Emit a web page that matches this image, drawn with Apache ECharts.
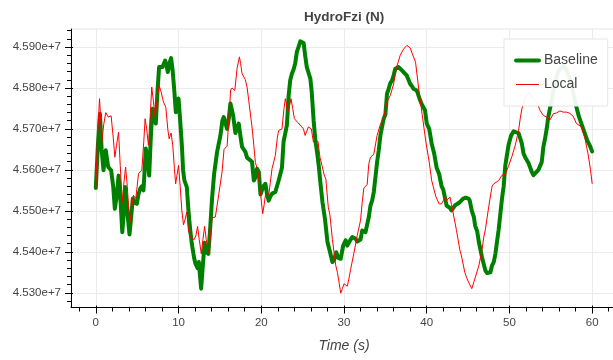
<!DOCTYPE html>
<html>
<head>
<meta charset="utf-8">
<script src="https://cdn.jsdelivr.net/npm/echarts@6/dist/echarts.min.js"></script>
<style>
  html, body { margin: 0; padding: 0; background: #ffffff; }
  #chart { width: 613px; height: 360px; }
</style>
</head>
<body>
<div id="chart"></div>
<script>
// ---- text ----
const TITLE = 'HydroFzi (N)';
const X_NAME = 'Time (s)';
const SERIES_NAMES = ['Baseline', 'Local'];

// ---- axes ----
const X_RANGE = [-3, 63];
const Y_RANGE = [45264e3, 45944e3];
const X_TICKS = [0, 10, 20, 30, 40, 50, 60];
const Y_TICKS = [45300e3, 45400e3, 45500e3, 45600e3, 45700e3, 45800e3, 45900e3];
const X_MINOR_STEP = 2;
const Y_MINOR_STEP = 20e3;

// ---- Baseline: time (s) and force (N) ----
const BASELINE_TIME = [
  0.00, 0.25, 0.50, 0.70, 0.93, 1.20, 1.50, 1.85, 2.10, 2.30, 2.55, 2.75, 3.00, 3.20, 3.40, 3.55,
  3.80, 4.07, 4.25, 4.47, 4.70, 4.96, 5.15, 5.36, 5.56, 5.76, 5.90, 6.04, 6.25, 6.45, 6.65, 6.85,
  7.05, 7.25, 7.45, 7.65, 7.85, 8.06, 8.25, 8.38, 8.55, 8.70, 8.90, 9.10, 9.30, 9.50, 9.67, 9.85,
  10.00, 10.20, 10.40, 10.55, 10.70, 11.00, 11.20, 11.40, 11.60, 11.90, 12.05, 12.30, 12.45, 12.60,
  12.73, 12.95, 13.15, 13.35, 13.60, 13.80, 14.05, 14.30, 14.66, 15.06, 15.30, 15.46, 15.66, 15.87,
  16.07, 16.27, 16.45, 16.60, 16.87, 17.05, 17.27, 17.50, 17.68, 18.08, 18.28, 18.48, 18.88, 19.10,
  19.25, 19.49, 19.70, 19.90, 20.05, 20.25, 20.50, 20.70, 20.90, 21.10, 21.30, 21.50, 21.70, 22.10,
  22.50, 22.70, 22.91, 23.10, 23.31, 23.50, 23.70, 23.90, 24.10, 24.30, 24.50, 24.72, 24.90, 25.12,
  25.30, 25.50, 25.70, 25.93, 26.10, 26.33, 26.55, 26.74, 26.95, 27.14, 27.40, 27.70, 28.00, 28.30,
  28.60, 28.80, 29.06, 29.30, 29.60, 29.90, 30.20, 30.40, 30.60, 30.80, 31.00, 31.20, 31.40, 31.60,
  31.80, 32.00, 32.20, 32.40, 32.60, 32.80, 33.00, 33.20, 33.40, 33.60, 33.80, 34.00, 34.20, 34.40,
  34.60, 34.80, 35.00, 35.20, 35.40, 35.60, 35.80, 36.00, 36.20, 36.40, 36.60, 36.80, 37.00, 37.20,
  37.60, 38.00, 38.20, 38.40, 38.60, 38.80, 39.20, 39.40, 39.60, 39.80, 40.00, 40.30, 40.60, 40.90,
  41.20, 41.50, 41.80, 42.00, 42.40, 42.80, 43.00, 43.20, 43.40, 43.60, 44.00, 44.40, 44.70, 45.05,
  45.20, 45.45, 45.70, 45.85, 46.10, 46.30, 46.70, 47.10, 47.30, 47.50, 47.70, 47.90, 48.10, 48.30,
  48.70, 49.10, 49.30, 49.50, 49.90, 50.20, 50.50, 50.70, 51.10, 51.50, 51.70, 51.90, 52.30, 52.70,
  52.90, 53.10, 53.50, 53.90, 54.10, 54.30, 54.50, 54.70, 55.10, 55.50, 55.90, 56.50, 57.00, 57.50,
  57.80, 58.10, 58.40, 58.70, 59.00, 59.40, 59.70, 60.00
];
const BASELINE_FORCE = [
  45556e3, 45660e3, 45737e3, 45650e3, 45599e3, 45648e3, 45607e3, 45599e3, 45560e3, 45505e3, 45540e3, 45586e3, 45520e3, 45448e3, 45500e3, 45558e3,
  45500e3, 45442e3, 45480e3, 45530e3, 45520e3, 45517e3, 45540e3, 45554e3, 45560e3, 45550e3, 45600e3, 45652e3, 45630e3, 45586e3, 45680e3, 45749e3,
  45740e3, 45713e3, 45790e3, 45851e3, 45855e3, 45851e3, 45860e3, 45867e3, 45855e3, 45839e3, 45860e3, 45873e3, 45840e3, 45790e3, 45741e3, 45765e3,
  45774e3, 45720e3, 45660e3, 45600e3, 45575e3, 45558e3, 45500e3, 45456e3, 45420e3, 45383e3, 45371e3, 45360e3, 45375e3, 45340e3,
  45310e3, 45370e3, 45422e3, 45400e3, 45395e3, 45450e3, 45530e3, 45590e3, 45644e3, 45684e3, 45720e3, 45729e3, 45725e3, 45700e3,
  45725e3, 45762e3, 45766e3, 45733e3, 45690e3, 45690e3, 45713e3, 45680e3, 45656e3, 45644e3, 45630e3, 45627e3, 45620e3, 45574e3,
  45580e3, 45603e3, 45595e3, 45540e3, 45536e3, 45560e3, 45566e3, 45540e3, 45525e3, 45535e3, 45542e3, 45542e3, 45546e3, 45574e3,
  45605e3, 45670e3, 45690e3, 45710e3, 45782e3, 45819e3, 45835e3, 45845e3, 45860e3, 45888e3, 45900e3, 45914e3, 45915e3, 45910e3,
  45880e3, 45851e3, 45838e3, 45823e3, 45790e3, 45720e3, 45670e3, 45644e3, 45610e3, 45570e3, 45521e3, 45480e3, 45424e3, 45400e3,
  45375e3, 45380e3, 45399e3, 45385e3, 45383e3, 45415e3, 45428e3, 45415e3, 45416e3, 45430e3, 45436e3, 45432e3, 45432e3, 45425e3,
  45424e3, 45430e3, 45452e3, 45456e3, 45448e3, 45450e3, 45485e3, 45513e3, 45525e3, 45546e3, 45582e3, 45619e3, 45648e3, 45684e3,
  45705e3, 45725e3, 45735e3, 45786e3, 45798e3, 45812e3, 45818e3, 45831e3, 45847e3, 45851e3, 45851e3, 45847e3, 45843e3, 45839e3,
  45830e3, 45810e3, 45805e3, 45798e3, 45797e3, 45794e3, 45770e3, 45760e3, 45753e3, 45745e3, 45713e3, 45700e3, 45664e3, 45640e3,
  45605e3, 45590e3, 45560e3, 45552e3, 45513e3, 45507e3, 45501e3, 45497e3, 45513e3, 45510e3, 45521e3, 45530e3, 45532e3, 45530e3,
  45525e3, 45500e3, 45485e3, 45464e3, 45450e3, 45424e3, 45385e3, 45354e3, 45348e3, 45346e3, 45350e3, 45367e3, 45375e3, 45395e3,
  45455e3, 45530e3, 45560e3, 45611e3, 45662e3, 45684e3, 45694e3, 45696e3, 45690e3, 45664e3, 45640e3, 45631e3, 45617e3, 45595e3,
  45587e3, 45588e3, 45600e3, 45619e3, 45656e3, 45676e3, 45700e3, 45730e3, 45770e3, 45815e3, 45840e3, 45855e3, 45840e3, 45810e3,
  45780e3, 45753e3, 45730e3, 45713e3, 45695e3, 45672e3, 45660e3, 45645e3
];

// ---- Local: time (s) and force (N) ----
const LOCAL_TIME = [
  0.00, 0.20, 0.45, 0.60, 0.73, 0.95, 1.20, 1.50, 1.85, 2.10, 2.30, 2.50, 2.75, 2.95, 3.20, 3.40,
  3.60, 3.80, 3.95, 4.15, 4.35, 4.55, 4.83, 5.00, 5.16, 5.40, 5.56, 5.80, 5.96, 6.15, 6.36, 6.60,
  6.76, 6.95, 7.17, 7.40, 7.65, 7.90, 8.17, 8.46, 8.70, 8.86, 9.10, 9.30, 9.50, 9.65, 9.80, 10.00,
  10.20, 10.40, 10.60, 10.80, 11.00, 11.20, 11.40, 11.60, 11.90, 12.10, 12.30, 12.50, 12.75, 12.95,
  13.15, 13.35, 13.55, 13.70, 13.90, 14.05, 14.45, 14.86, 15.26, 15.50, 15.87, 16.07, 16.30, 16.47,
  16.80, 17.07, 17.36, 17.50, 17.68, 18.08, 18.30, 18.48, 18.88, 19.10, 19.29, 19.61, 19.80, 19.95,
  20.17, 20.35, 20.50, 20.90, 21.10, 21.30, 21.70, 21.95, 22.10, 22.50, 22.75, 22.91, 23.10, 23.23,
  23.45, 23.60, 23.80, 24.00, 24.44, 24.90, 25.10, 25.30, 25.50, 25.70, 25.90, 26.05, 26.30, 26.45,
  26.85, 27.10, 27.34, 27.60, 27.80, 28.10, 28.30, 28.60, 29.00, 29.20, 29.40, 29.60, 29.80, 30.00,
  30.20, 30.40, 30.60, 30.80, 31.20, 31.60, 32.00, 32.20, 32.40, 32.80, 33.00, 33.20, 33.60, 34.00,
  34.40, 34.80, 35.20, 35.60, 36.00, 36.30, 36.80, 37.20, 37.60, 37.80, 38.00, 38.25, 38.65, 39.05,
  39.45, 39.90, 40.30, 40.60, 41.10, 41.50, 41.80, 42.00, 42.20, 42.40, 42.60, 42.80, 43.00, 43.20,
  43.60, 44.00, 44.20, 44.60, 44.80, 45.05, 45.45, 45.85, 46.30, 46.70, 46.90, 47.10, 47.50, 47.90,
  48.10, 48.30, 48.70, 49.10, 49.50, 49.90, 50.30, 50.70, 51.10, 51.30, 51.50, 51.90, 52.10, 52.30,
  52.50, 52.70, 52.90, 53.30, 53.70, 54.10, 54.50, 54.90, 55.30, 55.70, 56.10, 56.50, 56.90, 57.30,
  57.70, 58.10, 58.70, 59.10, 59.50, 59.80, 60.00
];
const LOCAL_FORCE = [
  45556e3, 45680e3, 45774e3, 45720e3, 45668e3, 45710e3, 45740e3, 45729e3, 45732e3, 45680e3, 45631e3, 45660e3, 45692e3, 45611e3, 45521e3, 45570e3,
  45607e3, 45560e3, 45513e3, 45473e3, 45510e3, 45538e3, 45530e3, 45560e3, 45591e3, 45595e3, 45599e3, 45670e3, 45725e3, 45700e3, 45660e3, 45740e3,
  45802e3, 45770e3, 45729e3, 45770e3, 45806e3, 45790e3, 45766e3, 45753e3, 45700e3, 45676e3, 45690e3, 45660e3, 45603e3, 45566e3, 45570e3, 45611e3,
  45560e3, 45500e3, 45466e3, 45480e3, 45497e3, 45450e3, 45440e3, 45432e3, 45430e3, 45440e3, 45462e3, 45430e3, 45395e3, 45430e3,
  45462e3, 45430e3, 45405e3, 45399e3, 45450e3, 45483e3, 45485e3, 45540e3, 45595e3, 45650e3, 45658e3, 45721e3, 45795e3, 45800e3,
  45794e3, 45847e3, 45876e3, 45860e3, 45835e3, 45820e3, 45800e3, 45770e3, 45705e3, 45660e3, 45618e3, 45595e3, 45560e3, 45535e3,
  45493e3, 45515e3, 45538e3, 45538e3, 45570e3, 45603e3, 45635e3, 45680e3, 45696e3, 45700e3, 45750e3, 45774e3, 45755e3, 45743e3,
  45760e3, 45774e3, 45750e3, 45725e3, 45715e3, 45705e3, 45700e3, 45684e3, 45680e3, 45705e3, 45705e3, 45700e3, 45668e3, 45664e3,
  45670e3, 45630e3, 45611e3, 45588e3, 45578e3, 45509e3, 45490e3, 45430e3, 45367e3, 45350e3, 45326e3, 45299e3, 45310e3, 45322e3,
  45318e3, 45316e3, 45335e3, 45357e3, 45397e3, 45440e3, 45477e3, 45520e3, 45556e3, 45564e3, 45615e3, 45631e3, 45638e3, 45684e3,
  45711e3, 45729e3, 45766e3, 45782e3, 45810e3, 45847e3, 45880e3, 45895e3, 45904e3, 45904e3, 45898e3, 45884e3, 45863e3, 45795e3,
  45735e3, 45668e3, 45619e3, 45574e3, 45535e3, 45517e3, 45517e3, 45525e3, 45534e3, 45525e3, 45521e3, 45534e3, 45515e3, 45511e3,
  45452e3, 45405e3, 45390e3, 45350e3, 45338e3, 45326e3, 45310e3, 45336e3, 45366e3, 45407e3, 45436e3, 45456e3, 45511e3, 45560e3,
  45566e3, 45568e3, 45574e3, 45587e3, 45590e3, 45610e3, 45633e3, 45660e3, 45696e3, 45725e3, 45749e3, 45776e3, 45786e3, 45790e3,
  45788e3, 45778e3, 45776e3, 45766e3, 45745e3, 45733e3, 45729e3, 45722e3, 45737e3, 45739e3, 45744e3, 45741e3, 45741e3, 45738e3,
  45731e3, 45713e3, 45705e3, 45680e3, 45639e3, 45600e3, 45566e3
];

// ---- styling ----
const FONT = '"Liberation Sans", Arial, Helvetica, sans-serif';
const INK = '#444444';
const AXIS_INK = '#000000';
const GRID_INK = '#ebebeb';
const COLORS = ['#008000', '#ff0000'];
const WIDTHS = [4, 1];

// plot frame in pixels (the frame runs slightly past the right edge of the canvas)
const PLOT = { left: 71, width: 546, top: 29, bottom: 52.5 };
const PLOT_CENTER_X = PLOT.left + PLOT.width / 2;

function pairs(xs, ys) {
  return xs.map((x, i) => [x, ys[i]]);
}

// minor tick positions between the labelled ticks
function minorTicks(range, step, majors) {
  const out = [];
  const start = Math.ceil(range[0] / step) * step;
  for (let v = start; v <= range[1] + 1e-9; v += step) {
    const r = Math.round(v * 1000) / 1000;
    if (!majors.some(m => Math.abs(m - r) < step / 10)) out.push(r);
  }
  return out;
}

const xMinor = minorTicks(X_RANGE, X_MINOR_STEP, X_TICKS);
const yMinor = minorTicks(Y_RANGE, Y_MINOR_STEP, Y_TICKS);

const yLabel = v => (v / 1e7).toFixed(3) + 'e+7';

// one visible axis plus two tick-only companions (minor ticks outward, short inward major ticks)
function axisSet(dim, range, majors, minors, extra) {
  const pos = dim === 'x' ? 'bottom' : 'left';
  const hidden = {
    axisLine: { show: false, onZero: false },
    axisLabel: { show: false },
    splitLine: { show: false }
  };
  return [
    Object.assign({
      type: 'value', position: pos, min: range[0], max: range[1],
      axisLine: { show: true, onZero: false, lineStyle: { color: AXIS_INK, width: 1 } },
      axisTick: { show: true, customValues: majors, length: 6, lineStyle: { color: AXIS_INK, width: 1 } },
      splitLine: { show: true, lineStyle: { color: GRID_INK, width: 1 } },
      minorTick: { show: false }
    }, extra),
    Object.assign({
      type: 'value', position: pos, min: range[0], max: range[1],
      axisTick: { show: true, customValues: minors, length: 4, lineStyle: { color: AXIS_INK, width: 1 } }
    }, hidden),
    Object.assign({
      type: 'value', position: pos, min: range[0], max: range[1],
      axisTick: { show: true, inside: true, customValues: majors, length: 2, lineStyle: { color: AXIS_INK, width: 1 } }
    }, hidden)
  ];
}

const chart = echarts.init(document.getElementById('chart'), null, { renderer: 'canvas' });

chart.setOption({
  animation: false,
  backgroundColor: '#ffffff',
  textStyle: { fontFamily: FONT },
  grid: {
    left: PLOT.left, width: PLOT.width, top: PLOT.top, bottom: PLOT.bottom,
    containLabel: false, outerBoundsMode: 'none',
    show: true, borderColor: '#e5e5e5', borderWidth: 1, backgroundColor: 'transparent'
  },
  graphic: [{
    type: 'text',
    x: PLOT_CENTER_X, y: 17,
    style: {
      text: TITLE,
      fill: INK,
      font: 'bold 13.5px ' + FONT,
      textAlign: 'center', textVerticalAlign: 'middle',
      align: 'center', verticalAlign: 'middle'
    }
  }],
  xAxis: axisSet('x', X_RANGE, X_TICKS, xMinor, {
    axisLabel: { show: true, customValues: X_TICKS, margin: 9, color: INK, fontSize: 11.5, fontFamily: FONT },
    name: X_NAME, nameLocation: 'middle', nameGap: 32,
    nameTextStyle: { fontStyle: 'italic', fontSize: 14, color: INK, fontFamily: FONT }
  }),
  yAxis: axisSet('y', Y_RANGE, Y_TICKS, yMinor, {
    axisLabel: { show: true, customValues: Y_TICKS, margin: 10, color: INK, fontSize: 11.5, fontFamily: FONT, formatter: yLabel }
  }),
  legend: {
    data: SERIES_NAMES,
    orient: 'vertical',
    left: 504, top: 39,
    padding: [14.5, 10, 14.5, 10],
    itemWidth: 23, itemHeight: 14, itemGap: 10,
    backgroundColor: 'rgba(255,255,255,0.93)',
    borderColor: '#e5e5e5', borderWidth: 1, borderRadius: 0,
    lineStyle: { width: 'inherit', opacity: 1 },
    itemStyle: { opacity: 0, borderWidth: 0 },
    textStyle: { fontSize: 14, color: INK, fontFamily: FONT },
    z: 10
  },
  series: [
    {
      name: SERIES_NAMES[0], type: 'line',
      xAxisIndex: 0, yAxisIndex: 0,
      data: pairs(BASELINE_TIME, BASELINE_FORCE),
      symbol: 'none', showSymbol: false,
      lineStyle: { color: COLORS[0], width: WIDTHS[0], join: 'round', cap: 'round' },
      itemStyle: { color: COLORS[0] },
      z: 2
    },
    {
      name: SERIES_NAMES[1], type: 'line',
      xAxisIndex: 0, yAxisIndex: 0,
      data: pairs(LOCAL_TIME, LOCAL_FORCE),
      symbol: 'none', showSymbol: false,
      lineStyle: { color: COLORS[1], width: WIDTHS[1], join: 'round' },
      itemStyle: { color: COLORS[1] },
      z: 3
    }
  ]
});
</script>
</body>
</html>
